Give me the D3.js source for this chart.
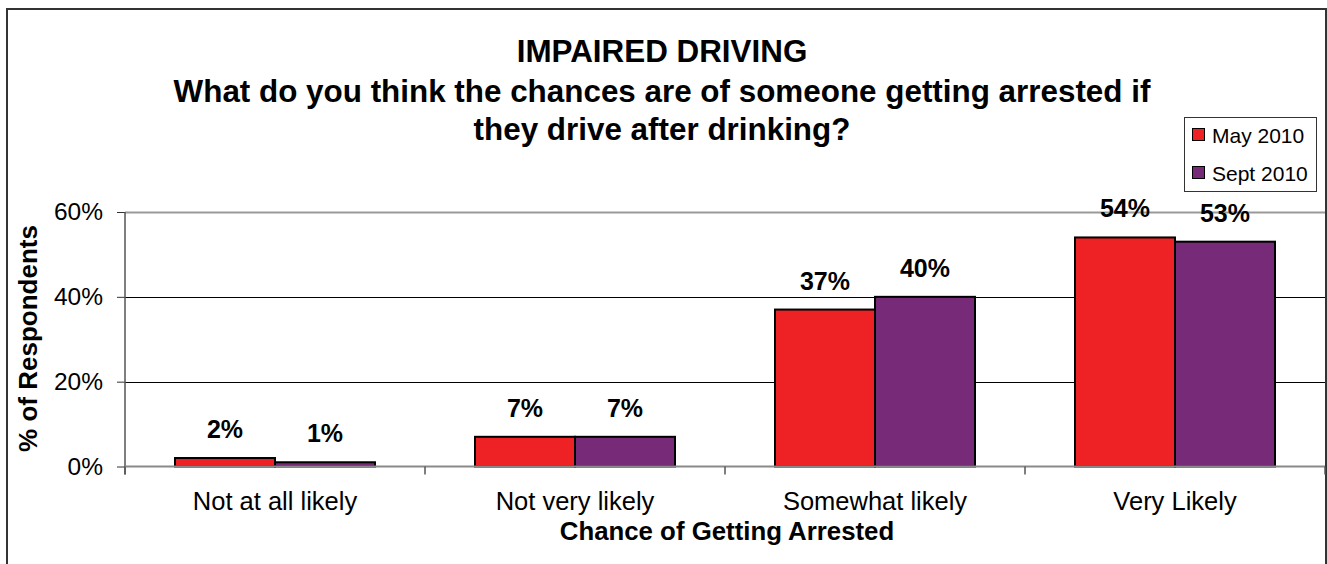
<!DOCTYPE html>
<html>
<head>
<meta charset="utf-8">
<script src="https://cdn.jsdelivr.net/npm/d3@7"></script>
<style>
  html, body { margin: 0; padding: 0; background: #fff; }
  svg { display: block; font-family: "Liberation Sans", Arial, sans-serif; }
</style>
</head>
<body>
<svg id="chart" width="1327" height="564"></svg>
<script>
const categories = ["Not at all likely", "Not very likely", "Somewhat likely", "Very Likely"];
const seriesNames = ["May 2010", "Sept 2010"];
const may2010 = [2, 7, 37, 54];
const sept2010 = [1, 7, 40, 53];
const seriesColors = ["#EE2224", "#772A77"];
const yTicks = [0, 20, 40, 60];
const titleLines = [
  "IMPAIRED DRIVING",
  "What do you think the chances are of someone getting arrested if",
  "they drive after drinking?"
];
const yAxisTitle = "% of Respondents";
const xAxisTitle = "Chance of Getting Arrested";

const seriesValues = [may2010, sept2010];
const data = categories.map((c, i) => ({
  category: c,
  values: seriesNames.map((s, j) => ({ series: s, value: seriesValues[j][i], color: seriesColors[j] }))
}));

const svg = d3.select("#chart");
const plot = { left: 125, right: 1325, top: 212, bottom: 466.5 };

// outer chart border
svg.append("rect")
  .attr("x", 7).attr("y", 9)
  .attr("width", 1319).attr("height", 620)
  .attr("fill", "none").attr("stroke", "#333").attr("stroke-width", 2);

const x0 = d3.scaleBand().domain(categories).range([plot.left, plot.right]).padding(0);
const x1 = d3.scaleBand().domain(seriesNames).range([x0.bandwidth() / 6, x0.bandwidth() * 5 / 6]).padding(0);
const y = d3.scaleLinear().domain([0, 60]).range([plot.bottom, plot.top]);

// gridlines
svg.append("g").selectAll("line")
  .data(yTicks.filter(t => t > 0))
  .join("line")
  .attr("x1", plot.left).attr("x2", plot.right)
  .attr("y1", d => Math.round(y(d)) + 0.5).attr("y2", d => Math.round(y(d)) + 0.5)
  .attr("stroke", d => d === 60 ? "#9a9a9a" : "#000")
  .attr("stroke-width", d => d === 60 ? 2 : 1);

// bars
const groups = svg.append("g").selectAll("g")
  .data(data).join("g")
  .attr("transform", d => `translate(${x0(d.category)},0)`);

groups.selectAll("rect")
  .data(d => d.values).join("rect")
  .attr("x", d => x1(d.series))
  .attr("y", d => y(d.value))
  .attr("width", x1.bandwidth())
  .attr("height", d => y(0) - y(d.value))
  .attr("fill", d => d.color)
  .attr("stroke", "#000")
  .attr("stroke-width", 2);

groups.selectAll("text")
  .data(d => d.values).join("text")
  .attr("x", d => x1(d.series) + x1.bandwidth() / 2)
  .attr("y", d => y(d.value) - 20)
  .attr("text-anchor", "middle")
  .attr("font-size", 25)
  .attr("font-weight", "bold")
  .attr("fill", "#000")
  .text(d => d.value + "%");

// y axis
const yAxis = d3.axisLeft(y).tickValues(yTicks).tickSize(8).tickPadding(14).tickFormat(d => d + "%");
const yg = svg.append("g").attr("transform", `translate(${plot.left},0)`).call(yAxis);
yg.select(".domain").remove();
yg.selectAll(".tick line").attr("stroke", "#333").attr("stroke-width", 1);
yg.selectAll(".tick text").attr("font-size", 24.5).attr("fill", "#000")
  .attr("font-family", "'Liberation Sans', Arial, sans-serif");
svg.append("line")
  .attr("x1", plot.left).attr("x2", plot.left)
  .attr("y1", plot.top).attr("y2", plot.bottom + 8)
  .attr("stroke", "#555").attr("stroke-width", 1.5);

// x axis baseline and ticks
svg.append("line")
  .attr("x1", plot.left).attr("x2", plot.right)
  .attr("y1", y(0)).attr("y2", y(0))
  .attr("stroke", "#8a8a8a").attr("stroke-width", 2);
const boundaries = categories.map(c => x0(c)).concat([plot.right]);
svg.append("g").selectAll("line")
  .data(boundaries).join("line")
  .attr("x1", d => d).attr("x2", d => d)
  .attr("y1", y(0)).attr("y2", y(0) + 8)
  .attr("stroke", "#555").attr("stroke-width", 1.5);

svg.append("g").selectAll("text")
  .data(categories).join("text")
  .attr("x", d => x0(d) + x0.bandwidth() / 2)
  .attr("y", 510)
  .attr("text-anchor", "middle")
  .attr("font-size", 25.5)
  .attr("fill", "#000")
  .text(d => d);

// axis titles
svg.append("text")
  .attr("x", (plot.left + plot.right) / 2 + 2)
  .attr("y", 540)
  .attr("text-anchor", "middle")
  .attr("font-size", 25.8)
  .attr("font-weight", "bold")
  .text(xAxisTitle);

svg.append("text")
  .attr("transform", "translate(37,338.5) rotate(-90)")
  .attr("text-anchor", "middle")
  .attr("font-size", 26)
  .attr("font-weight", "bold")
  .text(yAxisTitle);

// title
const titleY = [62, 102, 140];
svg.append("g").selectAll("text")
  .data(titleLines).join("text")
  .attr("x", 662)
  .attr("y", (d, i) => titleY[i])
  .attr("text-anchor", "middle")
  .attr("font-size", 31.4)
  .attr("font-weight", "bold")
  .text(d => d);

// legend
const legend = svg.append("g");
legend.append("rect")
  .attr("x", 1184.5).attr("y", 117.5)
  .attr("width", 132).attr("height", 74)
  .attr("fill", "#fff").attr("stroke", "#333").attr("stroke-width", 1);
const li = legend.selectAll("g.item")
  .data(seriesNames).join("g").attr("class", "item")
  .attr("transform", (d, i) => `translate(1192, ${i === 0 ? 135 : 173})`);
li.append("rect")
  .attr("x", 0.5).attr("y", -6.5)
  .attr("width", 12).attr("height", 12)
  .attr("fill", (d, i) => seriesColors[i])
  .attr("stroke", "#000").attr("stroke-width", 1);
li.append("text")
  .attr("x", 20).attr("y", 0)
  .attr("dy", "0.36em")
  .attr("font-size", 21)
  .attr("fill", "#000")
  .text(d => d);
</script>
</body>
</html>
